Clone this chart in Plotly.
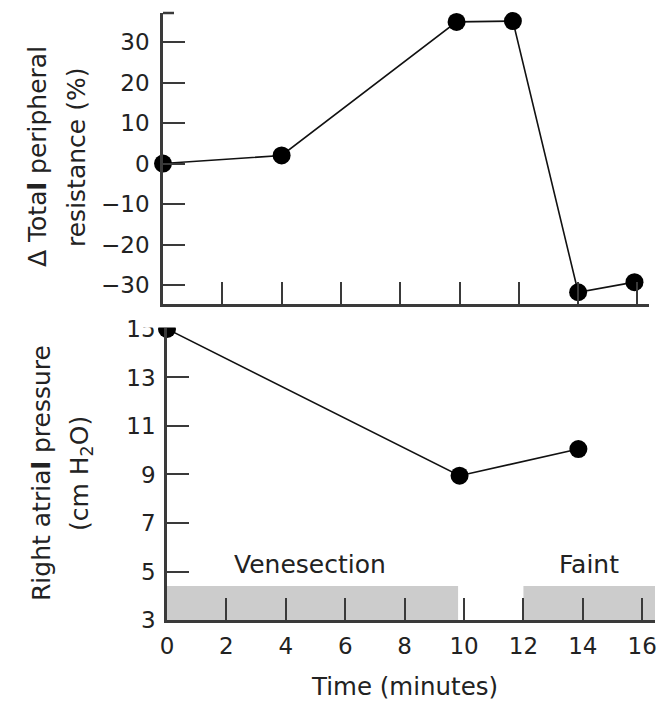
import plotly.graph_objects as go

# Data
time_tpr = [0, 4, 9.9, 11.8, 14, 15.9]
tpr_change = [0, 2, 35, 35.2, -31.8, -29.3]
time_rap = [0, 9.85, 13.85]
rap = [15.0, 8.95, 10.05]
top_ticks = [-30, -20, -10, 0, 10, 20, 30]
bottom_yticks = [3, 5, 7, 9, 11, 13, 15]
xticks = [0, 2, 4, 6, 8, 10, 12, 14, 16]
periods = ["Venesection", "Faint"]
period_start = [0, 12.0]
period_end = [9.8, 16.45]
period_label_x = [4.8, 14.2]

W, H = 671, 701
FONT = "DejaVu Sans"
FS = 23
FS_TITLE = 25
AX = "#3a3a3a"
TXT = "#222"

def px_x(p):
    return p / W

def px_y(p):
    return 1 - p / H

fig = go.Figure()
fig.add_trace(go.Scatter(x=time_tpr, y=tpr_change, mode="lines+markers",
                         line=dict(color="#111", width=1.6),
                         marker=dict(color="black", size=18),
                         cliponaxis=False, xaxis="x", yaxis="y", showlegend=False))
fig.add_trace(go.Scatter(x=time_rap, y=rap, mode="lines+markers",
                         line=dict(color="#111", width=1.6),
                         marker=dict(color="black", size=18),
                         cliponaxis=False, xaxis="x2", yaxis="y2", showlegend=False))

shapes = []
for s, e in zip(period_start, period_end):
    shapes.append(dict(type="rect", xref="x2", yref="y2", x0=s, x1=e, y0=3, y1=4.4,
                       fillcolor="#cccccc", line=dict(width=0), layer="below"))
# white mask: clip the first marker at the top of the lower panel
shapes.append(dict(type="rect", xref="paper", yref="paper", x0=px_x(140), x1=px_x(200),
                   y0=px_y(327.5), y1=px_y(310), fillcolor="white", line=dict(width=0), layer="above"))
# little cap at top of upper y axis
shapes.append(dict(type="line", xref="paper", yref="paper", x0=px_x(163), x1=px_x(174),
                   y0=px_y(13), y1=px_y(13), line=dict(color=AX, width=2.5)))

annotations = []
for lab, lx in zip(periods, period_label_x):
    annotations.append(dict(x=lx, y=5.27, xref="x2", yref="y2", text=lab, showarrow=False,
                            xanchor="center", yanchor="middle",
                            font=dict(family=FONT, size=FS_TITLE, color=TXT)))

def vlabel(text, cx, cy):
    annotations.append(dict(x=px_x(cx), y=px_y(cy), xref="paper", yref="paper",
                            xanchor="center", yanchor="middle", text=text, textangle=-90,
                            showarrow=False, font=dict(family=FONT, size=FS_TITLE, color=TXT)))

vlabel("Δ Tota<b>l</b> peripheral", 38, 157)
vlabel("resistance (%)", 77, 158)
vlabel("Right atria<b>l</b> pressure", 41, 473)
vlabel("(cm H<sub>2</sub>O)", 81, 474)
annotations.append(dict(x=px_x(404), y=px_y(686), xref="paper", yref="paper",
                        xanchor="center", yanchor="middle",
                        text="Time (minutes)", showarrow=False,
                        font=dict(family=FONT, size=24.5, color=TXT)))

axcommon = dict(showline=True, linecolor=AX, linewidth=2.5, ticks="inside", ticklen=22,
                tickwidth=2.2, tickcolor=AX, showgrid=False, zeroline=False, automargin=False,
                tickfont=dict(family=FONT, size=FS, color=TXT))

fig.update_layout(
    width=W, height=H, margin=dict(l=0, r=0, t=0, b=0, pad=0),
    plot_bgcolor="white", paper_bgcolor="white",
    xaxis=dict(domain=[px_x(163), px_x(649)], range=[0, 16.39], anchor="y",
               tickvals=xticks, showticklabels=False, **axcommon),
    yaxis=dict(domain=[px_y(304), px_y(13)], range=[-34.7, 37.2], anchor="x",
               tickvals=top_ticks, ticklabelstandoff=6, **axcommon),
    xaxis2=dict(domain=[px_x(167), px_x(655)], range=[0, 16.43], anchor="y2",
                tickvals=xticks, ticklabelstandoff=4, **axcommon),
    yaxis2=dict(domain=[px_y(620), px_y(328)], range=[3, 15.04], anchor="x2",
                tickvals=bottom_yticks, ticklabelstandoff=4, **axcommon),
    shapes=shapes, annotations=annotations,
)

fig.write_html("out.html")
